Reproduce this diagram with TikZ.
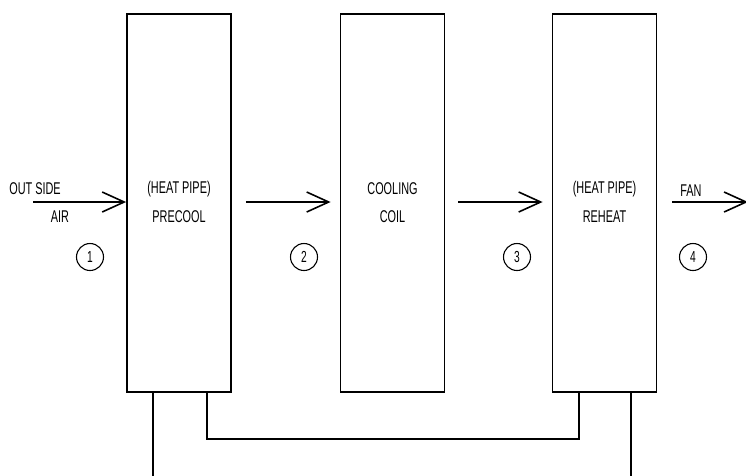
\documentclass[tikz,border=0pt]{standalone}
\usepackage{fontspec}
\setmainfont{Liberation Sans}[FakeStretch=0.64]
\usetikzlibrary{arrows.meta,calc}
\begin{document}
\begin{tikzpicture}[x=1pt,y=-1pt,
  unit/.style={draw,line width=1.8pt,minimum width=104pt,minimum height=378pt,inner sep=0pt},
  lbl/.style={font=\fontsize{17}{19}\selectfont,inner sep=0pt,align=center},
  num/.style={draw,circle,line width=1.1pt,minimum size=27pt,inner sep=0pt,font=\fontsize{16}{18}\selectfont},
  flow/.style={line width=1.6pt,-{Straight Barb[length=22pt,width=20pt,line width=1.6pt]}},
  pipe/.style={line width=1.6pt}]
\useasboundingbox (0,0) rectangle (746,475);
\node[unit] (b1) at (179,203) {};
\node[unit] (b2) at (392.5,203) {};
\node[unit] (b3) at (604.5,203) {};
\node[lbl] (t1a) at (179,189) {(HEAT PIPE)};
\node[lbl] (t1b) at (179,217) {PRECOOL};
\node[lbl] (t2a) at (392.5,189) {COOLING};
\node[lbl] (t2b) at (392.5,217) {COIL};
\node[lbl] (t3a) at (604.5,189) {(HEAT PIPE)};
\node[lbl] (t3b) at (604.5,217) {REHEAT};
\node[lbl] (os) at (35,189) {OUT SIDE};
\node[lbl] (air) at (60,217) {AIR};
\node[lbl] (fan) at (691,191) {FAN};
\node[num] (c1) at (90,257) {1};
\node[num] (c2) at (304,257) {2};
\node[num] (c3) at (517,257) {3};
\node[num] (c4) at (693,257) {4};
\coordinate (a0) at (33,202);
\coordinate (a4) at (748,202);
\draw[flow] (a0) -- (b1.west|-a0);
\draw[flow] (b1.east|-a0) ++(14,0) coordinate (a1s) -- ($(b2.west|-a0)+(-9,0)$) coordinate (a1e);
\draw[flow] (b2.east|-a0) ++(13,0) coordinate (a2s) -- ($(b3.west|-a0)+(-9,0)$) coordinate (a2e);
\draw[flow] (b3.east|-a0) ++(15,0) coordinate (a3s) -- (a4);
\coordinate (p1) at ($(b1.south)+(-26,0)$);
\coordinate (p2) at ($(b1.south)+(28,0)$);
\coordinate (p3) at ($(b3.south)+(-25.5,0)$);
\coordinate (p4) at ($(b3.south)+(26.5,0)$);
\draw[pipe] (p1) -- (p1|-0,476);
\draw[pipe] (p4) -- (p4|-0,476);
\draw[pipe] (p2) -- (p2|-0,439) -- (p3|-0,439) -- (p3);
\end{tikzpicture}
\end{document}
